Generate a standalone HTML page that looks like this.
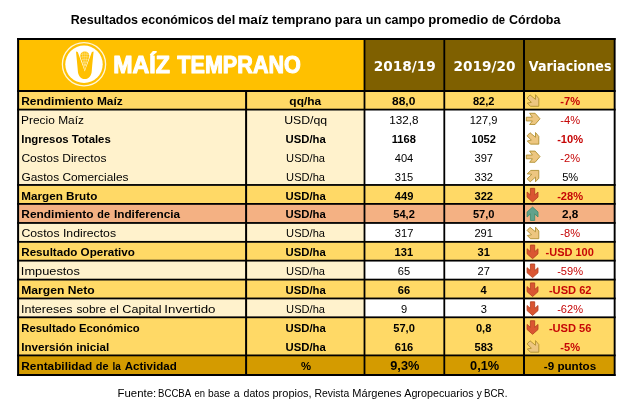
<!DOCTYPE html>
<html lang="es"><head><meta charset="utf-8"><title>Resultados económicos del maíz temprano</title>
<style>html,body{margin:0;padding:0;background:#fff}body{width:632px;height:409px;overflow:hidden;font-family:"Liberation Sans",sans-serif}svg text{white-space:pre}</style>
</head><body>
<svg width="632" height="409" viewBox="0 0 632 409" style="display:block">
<rect width="632" height="409" fill="#fff"/>
<rect x="18" y="39" width="346.5" height="52" fill="#FFC000"/>
<rect x="364.5" y="39" width="250.5" height="52" fill="#7F6000"/>
<rect x="18" y="91.00" width="597" height="19.10" fill="#FFD966"/>
<rect x="18" y="109.60" width="597" height="19.85" fill="#fff"/>
<rect x="18" y="128.45" width="597" height="19.90" fill="#fff"/>
<rect x="18" y="147.35" width="597" height="19.90" fill="#fff"/>
<rect x="18" y="166.25" width="597" height="19.20" fill="#fff"/>
<rect x="18" y="184.95" width="597" height="19.45" fill="#FFD966"/>
<rect x="18" y="203.90" width="597" height="19.55" fill="#F4B183"/>
<rect x="18" y="222.95" width="597" height="19.40" fill="#fff"/>
<rect x="18" y="241.85" width="597" height="19.30" fill="#FFD966"/>
<rect x="18" y="260.65" width="597" height="19.45" fill="#fff"/>
<rect x="18" y="279.60" width="597" height="19.35" fill="#FFD966"/>
<rect x="18" y="298.45" width="597" height="19.35" fill="#fff"/>
<rect x="18" y="317.30" width="597" height="20.05" fill="#FFD966"/>
<rect x="18" y="336.35" width="597" height="19.55" fill="#FFD966"/>
<rect x="18" y="355.40" width="597" height="20.10" fill="#D49B00"/>
<rect x="18" y="109.60" width="346.5" height="19.85" fill="#FFF2CC"/>
<rect x="18" y="128.45" width="346.5" height="19.90" fill="#FFF2CC"/>
<rect x="18" y="147.35" width="346.5" height="19.90" fill="#FFF2CC"/>
<rect x="18" y="166.25" width="346.5" height="19.20" fill="#FFF2CC"/>
<rect x="18" y="222.95" width="346.5" height="19.40" fill="#FFF2CC"/>
<rect x="18" y="260.65" width="346.5" height="19.45" fill="#FFF2CC"/>
<rect x="18" y="298.45" width="346.5" height="19.35" fill="#FFF2CC"/>
<rect x="17.1" y="38" width="598.5" height="2" fill="#000"/>
<rect x="17.1" y="90" width="598.5" height="2" fill="#000"/>
<rect x="17.1" y="108.70" width="598.5" height="1.8" fill="#000"/>
<rect x="17.1" y="184.05" width="598.5" height="1.8" fill="#000"/>
<rect x="17.1" y="203.00" width="598.5" height="1.8" fill="#000"/>
<rect x="17.1" y="222.05" width="598.5" height="1.8" fill="#000"/>
<rect x="17.1" y="240.95" width="598.5" height="1.8" fill="#000"/>
<rect x="17.1" y="259.75" width="598.5" height="1.8" fill="#000"/>
<rect x="17.1" y="278.70" width="598.5" height="1.8" fill="#000"/>
<rect x="17.1" y="297.55" width="598.5" height="1.8" fill="#000"/>
<rect x="17.1" y="316.40" width="598.5" height="1.8" fill="#000"/>
<rect x="17.1" y="354.50" width="598.5" height="1.8" fill="#000"/>
<rect x="17.1" y="374" width="598.5" height="2" fill="#000"/>
<rect x="17.1" y="38" width="2" height="338" fill="#000"/>
<rect x="245.1" y="90" width="2" height="286" fill="#000"/>
<rect x="363.6" y="38" width="1.8" height="338" fill="#000"/>
<rect x="443.4" y="38" width="1.8" height="338" fill="#000"/>
<rect x="523" y="38" width="2" height="338" fill="#000"/>
<rect x="613.7" y="38" width="1.9" height="338" fill="#000"/>
<g id="logo">
<circle cx="84" cy="64.3" r="21.6" fill="none" stroke="#fff" stroke-width="1.3" stroke-opacity="0.85"/>
<circle cx="84" cy="64.3" r="18.7" fill="#fff"/>
<path d="M76,51.6 C76.5,57 77.3,64 77.8,70.5 C78,75.8 80.8,79.1 84.8,79.1 C88.8,79.1 91.6,75.8 91.8,70.5 C92.3,64 93.1,57 93.6,51.6 L91.9,52 C90.2,56.5 87.3,64.5 84.8,71.4 C82.3,64.5 79.4,56.5 77.7,52 Z" fill="#FFC000"/>
<path d="M84.8,51.4 C87.6,51.4 89.3,53.4 89.3,55.6 C89.3,57.2 88.7,58.8 88,60.6 L84.8,70.2 L81.6,60.6 C80.9,58.8 80.3,57.2 80.3,55.6 C80.3,53.4 82,51.4 84.8,51.4 Z" fill="#FFC000"/>
<g stroke="#fff" stroke-width="0.5" stroke-opacity="0.65" fill="none">
<path d="M84.8,51.5 L84.8,69"/>
<path d="M82.9,52 C82.2,55 82.9,60 84.3,66"/>
<path d="M86.7,52 C87.4,55 86.7,60 85.3,66"/>
<path d="M80.6,54.6 C82.8,53.8 86.8,53.8 89,54.6"/>
<path d="M80.6,57.2 C82.8,56.4 86.8,56.4 89,57.2"/>
<path d="M81.5,59.8 C83.3,59.1 86.3,59.1 88.1,59.8"/>
<path d="M82.3,62.4 C83.7,61.9 85.9,61.9 87.3,62.4"/>
<path d="M83.1,65 C84.1,64.6 85.5,64.6 86.5,65"/>
</g>
</g>

<polygon points="530.00,94.90 527.10,98.05 531.40,102.35 527.30,103.10 530.40,106.30 538.80,106.30 538.80,98.60 535.50,94.70 535.50,99.40" fill="#EDC680" stroke="#AC8C2A" stroke-width="0.85" stroke-linejoin="round"/>
<polygon points="526.30,117.22 532.40,117.22 529.60,113.27 535.10,113.27 540.00,118.77 535.10,124.47 529.60,124.47 532.40,120.97 526.30,120.97" fill="#EDC680" stroke="#AC8C2A" stroke-width="0.85" stroke-linejoin="round"/>
<polygon points="530.00,132.73 527.10,135.88 531.40,140.18 527.30,140.93 530.40,144.13 538.80,144.13 538.80,136.43 535.50,132.53 535.50,137.23" fill="#EDC680" stroke="#AC8C2A" stroke-width="0.85" stroke-linejoin="round"/>
<polygon points="526.30,155.04 532.40,155.04 529.60,151.09 535.10,151.09 540.00,156.59 535.10,162.29 529.60,162.29 532.40,158.79 526.30,158.79" fill="#EDC680" stroke="#AC8C2A" stroke-width="0.85" stroke-linejoin="round"/>
<polygon points="538.80,170.41 538.80,178.26 535.50,181.81 535.50,177.11 530.20,181.81 527.10,178.81 531.80,174.36 527.30,173.81 530.80,170.41" fill="#EDC680" stroke="#AC8C2A" stroke-width="0.85" stroke-linejoin="round"/>
<polygon points="530.40,188.32 534.70,188.32 534.70,194.92 538.00,192.02 538.00,197.12 532.60,201.92 527.10,197.12 527.10,192.02 530.40,194.92" fill="#DA5532" stroke="#B5401F" stroke-width="0.85" stroke-linejoin="round"/>
<polygon points="532.60,207.09 538.00,211.94 538.00,216.99 534.70,213.89 534.70,220.49 530.40,220.49 530.40,213.89 527.10,216.99 527.10,211.94" fill="#62A28C" stroke="#3F8C6F" stroke-width="0.85" stroke-linejoin="round"/>
<polygon points="530.00,227.31 527.10,230.46 531.40,234.76 527.30,235.51 530.40,238.71 538.80,238.71 538.80,231.01 535.50,227.11 535.50,231.81" fill="#EDC680" stroke="#AC8C2A" stroke-width="0.85" stroke-linejoin="round"/>
<polygon points="530.40,245.07 534.70,245.07 534.70,251.67 538.00,248.77 538.00,253.87 532.60,258.67 527.10,253.87 527.10,248.77 530.40,251.67" fill="#DA5532" stroke="#B5401F" stroke-width="0.85" stroke-linejoin="round"/>
<polygon points="530.40,263.99 534.70,263.99 534.70,270.58 538.00,267.69 538.00,272.79 532.60,277.58 527.10,272.79 527.10,267.69 530.40,270.58" fill="#DA5532" stroke="#B5401F" stroke-width="0.85" stroke-linejoin="round"/>
<polygon points="530.40,282.90 534.70,282.90 534.70,289.50 538.00,286.60 538.00,291.70 532.60,296.50 527.10,291.70 527.10,286.60 530.40,289.50" fill="#DA5532" stroke="#B5401F" stroke-width="0.85" stroke-linejoin="round"/>
<polygon points="530.40,301.81 534.70,301.81 534.70,308.41 538.00,305.51 538.00,310.62 532.60,315.41 527.10,310.62 527.10,305.51 530.40,308.41" fill="#DA5532" stroke="#B5401F" stroke-width="0.85" stroke-linejoin="round"/>
<polygon points="530.40,320.73 534.70,320.73 534.70,327.33 538.00,324.43 538.00,329.53 532.60,334.33 527.10,329.53 527.10,324.43 530.40,327.33" fill="#DA5532" stroke="#B5401F" stroke-width="0.85" stroke-linejoin="round"/>
<polygon points="530.00,340.79 527.10,343.94 531.40,348.24 527.30,348.99 530.40,352.19 538.80,352.19 538.80,344.49 535.50,340.59 535.50,345.29" fill="#EDC680" stroke="#AC8C2A" stroke-width="0.85" stroke-linejoin="round"/>
<text transform="translate(70.77,24.00) scale(1.0322,1)" font-family="&quot;Liberation Sans&quot;, sans-serif" font-size="12.1" font-weight="bold" fill="#000">Resultados</text>
<text transform="translate(141.34,24.00) scale(1.0248,1)" font-family="&quot;Liberation Sans&quot;, sans-serif" font-size="12.1" font-weight="bold" fill="#000">económicos</text>
<text transform="translate(216.83,24.00) scale(1.0542,1)" font-family="&quot;Liberation Sans&quot;, sans-serif" font-size="12.1" font-weight="bold" fill="#000">del</text>
<text transform="translate(238.26,24.00) scale(1.1262,1)" font-family="&quot;Liberation Sans&quot;, sans-serif" font-size="12.1" font-weight="bold" fill="#000">maíz</text>
<text transform="translate(272.09,24.00) scale(1.0808,1)" font-family="&quot;Liberation Sans&quot;, sans-serif" font-size="12.1" font-weight="bold" fill="#000">temprano</text>
<text transform="translate(334.81,24.00) scale(1.0590,1)" font-family="&quot;Liberation Sans&quot;, sans-serif" font-size="12.1" font-weight="bold" fill="#000">para</text>
<text transform="translate(365.71,24.00) scale(1.0533,1)" font-family="&quot;Liberation Sans&quot;, sans-serif" font-size="12.1" font-weight="bold" fill="#000">un</text>
<text transform="translate(384.64,24.00) scale(1.0313,1)" font-family="&quot;Liberation Sans&quot;, sans-serif" font-size="12.1" font-weight="bold" fill="#000">campo</text>
<text transform="translate(428.28,24.00) scale(1.0903,1)" font-family="&quot;Liberation Sans&quot;, sans-serif" font-size="12.1" font-weight="bold" fill="#000">promedio</text>
<text transform="translate(491.98,24.00) scale(0.9330,1)" font-family="&quot;Liberation Sans&quot;, sans-serif" font-size="12.1" font-weight="bold" fill="#000">de</text>
<text transform="translate(509.03,24.00) scale(1.0342,1)" font-family="&quot;Liberation Sans&quot;, sans-serif" font-size="12.1" font-weight="bold" fill="#000">Córdoba</text>
<text transform="translate(113.16,73.20) scale(0.9358,1)" font-family="&quot;Liberation Sans&quot;, sans-serif" font-size="24.8" font-weight="bold" fill="#fff" stroke="#fff" stroke-width="1.1" stroke-linejoin="round">MAÍZ</text>
<text transform="translate(177.28,73.20) scale(0.8713,1)" font-family="&quot;Liberation Sans&quot;, sans-serif" font-size="24.8" font-weight="bold" fill="#fff" stroke="#fff" stroke-width="1.1" stroke-linejoin="round">TEMPRANO</text>
<text transform="translate(373.63,70.75) scale(1.0136,1)" font-family="&quot;DejaVu Sans&quot;, sans-serif" font-size="13.5" font-weight="bold" fill="#fff">2018/19</text>
<text transform="translate(453.43,70.75) scale(1.0134,1)" font-family="&quot;DejaVu Sans&quot;, sans-serif" font-size="13.5" font-weight="bold" fill="#fff">2019/20</text>
<text transform="translate(528.80,70.75) scale(0.9408,1)" font-family="&quot;DejaVu Sans&quot;, sans-serif" font-size="13.5" font-weight="bold" fill="#fff">Variaciones</text>
<text transform="translate(117.57,396.50) scale(1.0962,1)" font-family="&quot;Liberation Sans&quot;, sans-serif" font-size="10.4" font-weight="normal" fill="#000">Fuente:</text>
<text transform="translate(158.12,396.50) scale(0.9230,1)" font-family="&quot;Liberation Sans&quot;, sans-serif" font-size="10.4" font-weight="normal" fill="#000">BCCBA</text>
<text transform="translate(194.54,396.50) scale(0.9113,1)" font-family="&quot;Liberation Sans&quot;, sans-serif" font-size="10.4" font-weight="normal" fill="#000">en</text>
<text transform="translate(208.06,396.50) scale(0.9829,1)" font-family="&quot;Liberation Sans&quot;, sans-serif" font-size="10.4" font-weight="normal" fill="#000">base</text>
<text transform="translate(233.79,396.50) scale(1.0185,1)" font-family="&quot;Liberation Sans&quot;, sans-serif" font-size="10.4" font-weight="normal" fill="#000">a</text>
<text transform="translate(243.59,396.50) scale(1.0165,1)" font-family="&quot;Liberation Sans&quot;, sans-serif" font-size="10.4" font-weight="normal" fill="#000">datos</text>
<text transform="translate(272.51,396.50) scale(1.0575,1)" font-family="&quot;Liberation Sans&quot;, sans-serif" font-size="10.4" font-weight="normal" fill="#000">propios,</text>
<text transform="translate(314.55,396.50) scale(1.0016,1)" font-family="&quot;Liberation Sans&quot;, sans-serif" font-size="10.4" font-weight="normal" fill="#000">Revista</text>
<text transform="translate(352.30,396.50) scale(1.0633,1)" font-family="&quot;Liberation Sans&quot;, sans-serif" font-size="10.4" font-weight="normal" fill="#000">Márgenes</text>
<text transform="translate(404.20,396.50) scale(1.0373,1)" font-family="&quot;Liberation Sans&quot;, sans-serif" font-size="10.4" font-weight="normal" fill="#000">Agropecuarios</text>
<text transform="translate(476.70,396.50) scale(0.9808,1)" font-family="&quot;Liberation Sans&quot;, sans-serif" font-size="10.4" font-weight="normal" fill="#000">y</text>
<text transform="translate(484.10,396.50) scale(0.9368,1)" font-family="&quot;Liberation Sans&quot;, sans-serif" font-size="10.4" font-weight="normal" fill="#000">BCR.</text>
<text transform="translate(21.21,104.90) scale(1.0495,1)" font-family="&quot;Liberation Sans&quot;, sans-serif" font-size="11.4" font-weight="bold" fill="#000">Rendimiento Maíz</text>
<text transform="translate(289.33,104.90) scale(1.0513,1)" font-family="&quot;Liberation Sans&quot;, sans-serif" font-size="11.4" font-weight="bold" fill="#000">qq/ha</text>
<text transform="translate(392.03,104.90) scale(1.0515,1)" font-family="&quot;Liberation Sans&quot;, sans-serif" font-size="11.4" font-weight="bold" fill="#000">88,0</text>
<text transform="translate(472.93,104.90) scale(0.9750,1)" font-family="&quot;Liberation Sans&quot;, sans-serif" font-size="11.4" font-weight="bold" fill="#000">82,2</text>
<text transform="translate(560.26,104.90) scale(0.9750,1)" font-family="&quot;Liberation Sans&quot;, sans-serif" font-size="11.4" font-weight="bold" fill="#C60606">-7%</text>
<text transform="translate(21.06,123.83) scale(1.0454,1)" font-family="&quot;Liberation Sans&quot;, sans-serif" font-size="11.4" font-weight="normal" fill="#000">Precio Maíz</text>
<text transform="translate(284.18,123.83) scale(1.0788,1)" font-family="&quot;Liberation Sans&quot;, sans-serif" font-size="11.4" font-weight="normal" fill="#000">USD/qq</text>
<text transform="translate(389.23,123.83) scale(1.0262,1)" font-family="&quot;Liberation Sans&quot;, sans-serif" font-size="11.4" font-weight="normal" fill="#000">132,8</text>
<text transform="translate(469.64,123.83) scale(0.9750,1)" font-family="&quot;Liberation Sans&quot;, sans-serif" font-size="11.4" font-weight="normal" fill="#000">127,9</text>
<text transform="translate(560.26,123.83) scale(0.9750,1)" font-family="&quot;Liberation Sans&quot;, sans-serif" font-size="11.4" font-weight="normal" fill="#C60606">-4%</text>
<text transform="translate(21.25,142.76) scale(0.9994,1)" font-family="&quot;Liberation Sans&quot;, sans-serif" font-size="11.4" font-weight="bold" fill="#000">Ingresos Totales</text>
<text transform="translate(285.47,142.76) scale(0.9940,1)" font-family="&quot;Liberation Sans&quot;, sans-serif" font-size="11.4" font-weight="bold" fill="#000">USD/ha</text>
<text transform="translate(391.77,142.76) scale(0.9750,1)" font-family="&quot;Liberation Sans&quot;, sans-serif" font-size="11.4" font-weight="bold" fill="#000">1168</text>
<text transform="translate(471.21,142.76) scale(0.9750,1)" font-family="&quot;Liberation Sans&quot;, sans-serif" font-size="11.4" font-weight="bold" fill="#000">1052</text>
<text transform="translate(557.17,142.76) scale(0.9750,1)" font-family="&quot;Liberation Sans&quot;, sans-serif" font-size="11.4" font-weight="bold" fill="#C60606">-10%</text>
<text transform="translate(21.42,161.69) scale(1.0578,1)" font-family="&quot;Liberation Sans&quot;, sans-serif" font-size="11.4" font-weight="normal" fill="#000">Costos Directos</text>
<text transform="translate(286.12,161.69) scale(0.9750,1)" font-family="&quot;Liberation Sans&quot;, sans-serif" font-size="11.4" font-weight="normal" fill="#000">USD/ha</text>
<text transform="translate(394.75,161.69) scale(0.9750,1)" font-family="&quot;Liberation Sans&quot;, sans-serif" font-size="11.4" font-weight="normal" fill="#000">404</text>
<text transform="translate(474.50,161.69) scale(0.9750,1)" font-family="&quot;Liberation Sans&quot;, sans-serif" font-size="11.4" font-weight="normal" fill="#000">397</text>
<text transform="translate(560.26,161.69) scale(0.9750,1)" font-family="&quot;Liberation Sans&quot;, sans-serif" font-size="11.4" font-weight="normal" fill="#C60606">-2%</text>
<text transform="translate(21.43,180.62) scale(1.0434,1)" font-family="&quot;Liberation Sans&quot;, sans-serif" font-size="11.4" font-weight="normal" fill="#000">Gastos Comerciales</text>
<text transform="translate(286.12,180.62) scale(0.9750,1)" font-family="&quot;Liberation Sans&quot;, sans-serif" font-size="11.4" font-weight="normal" fill="#000">USD/ha</text>
<text transform="translate(394.75,180.62) scale(0.9750,1)" font-family="&quot;Liberation Sans&quot;, sans-serif" font-size="11.4" font-weight="normal" fill="#000">315</text>
<text transform="translate(474.50,180.62) scale(0.9750,1)" font-family="&quot;Liberation Sans&quot;, sans-serif" font-size="11.4" font-weight="normal" fill="#000">332</text>
<text transform="translate(562.14,180.62) scale(0.9750,1)" font-family="&quot;Liberation Sans&quot;, sans-serif" font-size="11.4" font-weight="normal" fill="#000">5%</text>
<text transform="translate(21.23,199.55) scale(1.0269,1)" font-family="&quot;Liberation Sans&quot;, sans-serif" font-size="11.4" font-weight="bold" fill="#000">Margen Bruto</text>
<text transform="translate(285.47,199.55) scale(0.9940,1)" font-family="&quot;Liberation Sans&quot;, sans-serif" font-size="11.4" font-weight="bold" fill="#000">USD/ha</text>
<text transform="translate(394.84,199.55) scale(0.9750,1)" font-family="&quot;Liberation Sans&quot;, sans-serif" font-size="11.4" font-weight="bold" fill="#000">449</text>
<text transform="translate(474.52,199.55) scale(0.9750,1)" font-family="&quot;Liberation Sans&quot;, sans-serif" font-size="11.4" font-weight="bold" fill="#000">322</text>
<text transform="translate(557.17,199.55) scale(0.9750,1)" font-family="&quot;Liberation Sans&quot;, sans-serif" font-size="11.4" font-weight="bold" fill="#C60606">-28%</text>
<text transform="translate(21.32,218.48) scale(1.0461,1)" font-family="&quot;Liberation Sans&quot;, sans-serif" font-size="11.4" font-weight="bold" fill="#000">Rendimiento</text>
<text transform="translate(97.27,218.48) scale(0.9510,1)" font-family="&quot;Liberation Sans&quot;, sans-serif" font-size="11.4" font-weight="bold" fill="#000">de</text>
<text transform="translate(113.92,218.48) scale(1.0356,1)" font-family="&quot;Liberation Sans&quot;, sans-serif" font-size="11.4" font-weight="bold" fill="#000">Indiferencia</text>
<text transform="translate(285.47,218.48) scale(0.9940,1)" font-family="&quot;Liberation Sans&quot;, sans-serif" font-size="11.4" font-weight="bold" fill="#000">USD/ha</text>
<text transform="translate(393.23,218.48) scale(0.9750,1)" font-family="&quot;Liberation Sans&quot;, sans-serif" font-size="11.4" font-weight="bold" fill="#000">54,2</text>
<text transform="translate(472.93,218.48) scale(0.9750,1)" font-family="&quot;Liberation Sans&quot;, sans-serif" font-size="11.4" font-weight="bold" fill="#000">57,0</text>
<text transform="translate(561.94,218.48) scale(1.0292,1)" font-family="&quot;Liberation Sans&quot;, sans-serif" font-size="11.4" font-weight="bold" fill="#000">2,8</text>
<text transform="translate(21.41,237.41) scale(1.0755,1)" font-family="&quot;Liberation Sans&quot;, sans-serif" font-size="11.4" font-weight="normal" fill="#000">Costos Indirectos</text>
<text transform="translate(286.12,237.41) scale(0.9750,1)" font-family="&quot;Liberation Sans&quot;, sans-serif" font-size="11.4" font-weight="normal" fill="#000">USD/ha</text>
<text transform="translate(394.80,237.41) scale(0.9750,1)" font-family="&quot;Liberation Sans&quot;, sans-serif" font-size="11.4" font-weight="normal" fill="#000">317</text>
<text transform="translate(474.42,237.41) scale(0.9750,1)" font-family="&quot;Liberation Sans&quot;, sans-serif" font-size="11.4" font-weight="normal" fill="#000">291</text>
<text transform="translate(560.26,237.41) scale(0.9750,1)" font-family="&quot;Liberation Sans&quot;, sans-serif" font-size="11.4" font-weight="normal" fill="#C60606">-8%</text>
<text transform="translate(21.24,256.34) scale(1.0197,1)" font-family="&quot;Liberation Sans&quot;, sans-serif" font-size="11.4" font-weight="bold" fill="#000">Resultado Operativo</text>
<text transform="translate(285.47,256.34) scale(0.9940,1)" font-family="&quot;Liberation Sans&quot;, sans-serif" font-size="11.4" font-weight="bold" fill="#000">USD/ha</text>
<text transform="translate(394.53,256.34) scale(0.9750,1)" font-family="&quot;Liberation Sans&quot;, sans-serif" font-size="11.4" font-weight="bold" fill="#000">131</text>
<text transform="translate(477.54,256.34) scale(0.9750,1)" font-family="&quot;Liberation Sans&quot;, sans-serif" font-size="11.4" font-weight="bold" fill="#000">31</text>
<text transform="translate(545.61,256.34) scale(0.9632,1)" font-family="&quot;Liberation Sans&quot;, sans-serif" font-size="11.4" font-weight="bold" fill="#C60606">-USD 100</text>
<text transform="translate(20.82,275.27) scale(1.1243,1)" font-family="&quot;Liberation Sans&quot;, sans-serif" font-size="11.4" font-weight="normal" fill="#000">Impuestos</text>
<text transform="translate(286.12,275.27) scale(0.9750,1)" font-family="&quot;Liberation Sans&quot;, sans-serif" font-size="11.4" font-weight="normal" fill="#000">USD/ha</text>
<text transform="translate(397.76,275.27) scale(0.9750,1)" font-family="&quot;Liberation Sans&quot;, sans-serif" font-size="11.4" font-weight="normal" fill="#000">65</text>
<text transform="translate(477.51,275.27) scale(0.9750,1)" font-family="&quot;Liberation Sans&quot;, sans-serif" font-size="11.4" font-weight="normal" fill="#000">27</text>
<text transform="translate(557.17,275.27) scale(0.9750,1)" font-family="&quot;Liberation Sans&quot;, sans-serif" font-size="11.4" font-weight="normal" fill="#C60606">-59%</text>
<text transform="translate(21.20,294.20) scale(1.0652,1)" font-family="&quot;Liberation Sans&quot;, sans-serif" font-size="11.4" font-weight="bold" fill="#000">Margen Neto</text>
<text transform="translate(285.47,294.20) scale(0.9940,1)" font-family="&quot;Liberation Sans&quot;, sans-serif" font-size="11.4" font-weight="bold" fill="#000">USD/ha</text>
<text transform="translate(397.81,294.20) scale(0.9750,1)" font-family="&quot;Liberation Sans&quot;, sans-serif" font-size="11.4" font-weight="bold" fill="#000">66</text>
<text transform="translate(480.56,294.20) scale(0.9750,1)" font-family="&quot;Liberation Sans&quot;, sans-serif" font-size="11.4" font-weight="bold" fill="#000">4</text>
<text transform="translate(548.91,294.20) scale(0.9750,1)" font-family="&quot;Liberation Sans&quot;, sans-serif" font-size="11.4" font-weight="bold" fill="#C60606">-USD 62</text>
<text transform="translate(20.94,313.13) scale(1.1003,1)" font-family="&quot;Liberation Sans&quot;, sans-serif" font-size="11.4" font-weight="normal" fill="#000">Intereses</text>
<text transform="translate(76.39,313.13) scale(1.0387,1)" font-family="&quot;Liberation Sans&quot;, sans-serif" font-size="11.4" font-weight="normal" fill="#000">sobre</text>
<text transform="translate(109.74,313.13) scale(1.0143,1)" font-family="&quot;Liberation Sans&quot;, sans-serif" font-size="11.4" font-weight="normal" fill="#000">el</text>
<text transform="translate(122.29,313.13) scale(1.1081,1)" font-family="&quot;Liberation Sans&quot;, sans-serif" font-size="11.4" font-weight="normal" fill="#000">Capital</text>
<text transform="translate(164.37,313.13) scale(1.1697,1)" font-family="&quot;Liberation Sans&quot;, sans-serif" font-size="11.4" font-weight="normal" fill="#000">Invertido</text>
<text transform="translate(286.12,313.13) scale(0.9750,1)" font-family="&quot;Liberation Sans&quot;, sans-serif" font-size="11.4" font-weight="normal" fill="#000">USD/ha</text>
<text transform="translate(400.93,313.13) scale(0.9750,1)" font-family="&quot;Liberation Sans&quot;, sans-serif" font-size="11.4" font-weight="normal" fill="#000">9</text>
<text transform="translate(480.65,313.13) scale(0.9750,1)" font-family="&quot;Liberation Sans&quot;, sans-serif" font-size="11.4" font-weight="normal" fill="#000">3</text>
<text transform="translate(557.17,313.13) scale(0.9750,1)" font-family="&quot;Liberation Sans&quot;, sans-serif" font-size="11.4" font-weight="normal" fill="#C60606">-62%</text>
<text transform="translate(21.26,332.06) scale(0.9911,1)" font-family="&quot;Liberation Sans&quot;, sans-serif" font-size="11.4" font-weight="bold" fill="#000">Resultado Económico</text>
<text transform="translate(285.47,332.06) scale(0.9940,1)" font-family="&quot;Liberation Sans&quot;, sans-serif" font-size="11.4" font-weight="bold" fill="#000">USD/ha</text>
<text transform="translate(393.23,332.06) scale(0.9750,1)" font-family="&quot;Liberation Sans&quot;, sans-serif" font-size="11.4" font-weight="bold" fill="#000">57,0</text>
<text transform="translate(475.92,332.06) scale(0.9750,1)" font-family="&quot;Liberation Sans&quot;, sans-serif" font-size="11.4" font-weight="bold" fill="#000">0,8</text>
<text transform="translate(548.89,332.06) scale(0.9750,1)" font-family="&quot;Liberation Sans&quot;, sans-serif" font-size="11.4" font-weight="bold" fill="#C60606">-USD 56</text>
<text transform="translate(21.23,350.99) scale(1.0219,1)" font-family="&quot;Liberation Sans&quot;, sans-serif" font-size="11.4" font-weight="bold" fill="#000">Inversión inicial</text>
<text transform="translate(285.47,350.99) scale(0.9940,1)" font-family="&quot;Liberation Sans&quot;, sans-serif" font-size="11.4" font-weight="bold" fill="#000">USD/ha</text>
<text transform="translate(394.72,350.99) scale(0.9750,1)" font-family="&quot;Liberation Sans&quot;, sans-serif" font-size="11.4" font-weight="bold" fill="#000">616</text>
<text transform="translate(474.45,350.99) scale(0.9750,1)" font-family="&quot;Liberation Sans&quot;, sans-serif" font-size="11.4" font-weight="bold" fill="#000">583</text>
<text transform="translate(560.26,350.99) scale(0.9750,1)" font-family="&quot;Liberation Sans&quot;, sans-serif" font-size="11.4" font-weight="bold" fill="#C60606">-5%</text>
<text transform="translate(21.32,369.92) scale(1.0367,1)" font-family="&quot;Liberation Sans&quot;, sans-serif" font-size="11.4" font-weight="bold" fill="#000">Rentabilidad</text>
<text transform="translate(95.77,369.92) scale(0.9590,1)" font-family="&quot;Liberation Sans&quot;, sans-serif" font-size="11.4" font-weight="bold" fill="#000">de</text>
<text transform="translate(112.44,369.92) scale(0.8796,1)" font-family="&quot;Liberation Sans&quot;, sans-serif" font-size="11.4" font-weight="bold" fill="#000">la</text>
<text transform="translate(124.75,369.92) scale(1.0149,1)" font-family="&quot;Liberation Sans&quot;, sans-serif" font-size="11.4" font-weight="bold" fill="#000">Actividad</text>
<text transform="translate(300.98,369.92) scale(0.9940,1)" font-family="&quot;Liberation Sans&quot;, sans-serif" font-size="11.4" font-weight="bold" fill="#000">%</text>
<text transform="translate(390.27,369.92) scale(1.0644,1)" font-family="&quot;Liberation Sans&quot;, sans-serif" font-size="12" font-weight="bold" fill="#000">9,3%</text>
<text transform="translate(470.02,369.92) scale(1.0664,1)" font-family="&quot;Liberation Sans&quot;, sans-serif" font-size="12" font-weight="bold" fill="#000">0,1%</text>
<text transform="translate(543.79,369.92) scale(1.0227,1)" font-family="&quot;Liberation Sans&quot;, sans-serif" font-size="11.4" font-weight="bold" fill="#000">-9 puntos</text>
</svg>
</body></html>
